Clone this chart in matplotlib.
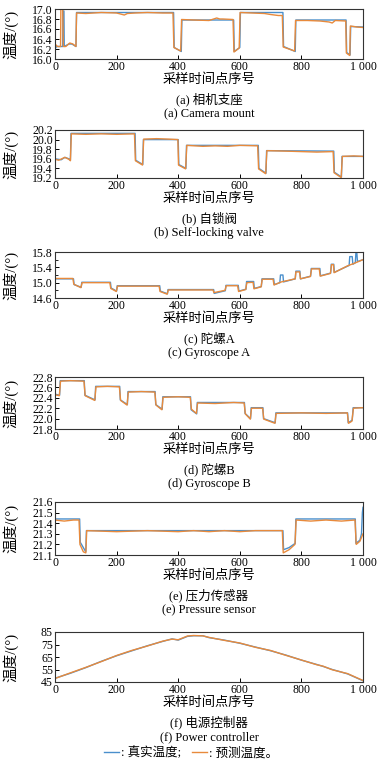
import matplotlib
matplotlib.use("Agg")
import matplotlib.pyplot as plt
from matplotlib.lines import Line2D
from matplotlib.ticker import FuncFormatter

plt.rcParams["font.family"] = ["Liberation Serif", "Noto Sans CJK SC"]
plt.rcParams["font.size"] = 9

BLUE = "#4a8fcc"
ORANGE = "#e88a3c"

# (a) camera mount
a_true_x = [0, 5, 25, 26, 29, 30, 45, 55, 68, 70, 385, 387, 410, 412, 580, 582, 600, 602,
            740, 742, 780, 782, 945, 947, 958, 960, 1000]
a_true_y = [16.2, 16.25, 16.25, 16.96, 16.96, 16.25, 16.3, 16.3, 16.25, 16.93, 16.93, 16.23,
            16.15, 16.78, 16.78, 16.15, 16.23, 16.93, 16.93, 16.25, 16.15, 16.78, 16.78, 16.13,
            16.08, 16.65, 16.64]
a_pred_x = [0, 8, 18, 19, 25, 27, 35, 48, 58, 68, 70, 100, 150, 200, 225, 235, 260, 300, 350,
            383, 386, 408, 411, 450, 500, 525, 535, 545, 578, 581, 598, 601, 640, 680, 700, 725,
            738, 741, 778, 781, 820, 860, 890, 900, 910, 944, 946, 957, 959, 980, 1000]
a_pred_y = [16.3, 16.25, 16.25, 17.0, 17.0, 16.25, 16.25, 16.32, 16.3, 16.25, 16.92, 16.91,
            16.93, 16.92, 16.88, 16.91, 16.92, 16.93, 16.92, 16.92, 16.23, 16.16, 16.79, 16.78,
            16.77, 16.82, 16.8, 16.8, 16.79, 16.14, 16.22, 16.93, 16.92, 16.91, 16.89, 16.87,
            16.87, 16.24, 16.16, 16.77, 16.77, 16.76, 16.74, 16.72, 16.77, 16.76, 16.12, 16.07,
            16.66, 16.64, 16.63]
a_ticks = [16.0, 16.2, 16.4, 16.6, 16.8, 17.0]

# (b) self-locking valve
b_true_x = [0, 20, 32, 45, 50, 52, 260, 262, 285, 287, 400, 402, 425, 427, 660, 662, 685, 687,
            905, 907, 930, 932, 1000]
b_true_y = [19.6, 19.58, 19.63, 19.6, 19.57, 20.13, 20.13, 19.57, 19.48, 20.0, 20.0, 19.48,
            19.4, 19.88, 19.88, 19.4, 19.3, 19.77, 19.76, 19.32, 19.22, 19.65, 19.65]
b_pred_x = [0, 12, 22, 32, 45, 50, 53, 100, 150, 200, 258, 261, 284, 288, 330, 370, 399, 401,
            424, 428, 480, 520, 560, 600, 658, 661, 684, 688, 750, 800, 850, 903, 906, 929, 933,
            970, 1000]
b_pred_y = [19.59, 19.57, 19.6, 19.63, 19.59, 19.56, 20.12, 20.11, 20.12, 20.11, 20.12, 19.56,
            19.47, 20.01, 20.02, 20.01, 20.0, 19.47, 19.39, 19.88, 19.86, 19.87, 19.86, 19.88,
            19.87, 19.39, 19.29, 19.77, 19.76, 19.75, 19.74, 19.75, 19.31, 19.21, 19.65, 19.66,
            19.65]
b_ticks = [19.2, 19.4, 19.6, 19.8, 20.0, 20.2]

# (c) gyroscope A
c_true_x = [0, 60, 62, 85, 87, 180, 182, 200, 202, 340, 342, 365, 367, 515, 517, 553, 555, 595,
            597, 620, 622, 645, 647, 670, 672, 710, 712, 730, 732, 740, 742, 780, 782, 795, 797,
            830, 832, 860, 862, 895, 897, 905, 907, 955, 957, 965, 967, 975, 977, 980, 982, 1000]
c_true_y = [15.1, 15.1, 14.95, 14.88, 15.01, 15.01, 14.86, 14.78, 14.92, 14.92, 14.78, 14.71,
            14.82, 14.82, 14.72, 14.79, 14.93, 14.93, 14.78, 14.83, 15.03, 15.03, 14.85, 14.9,
            15.1, 15.1, 14.95, 15.0, 15.2, 15.2, 15.02, 15.1, 15.3, 15.3, 15.1, 15.17, 15.37,
            15.37, 15.18, 15.25, 15.48, 15.48, 15.27, 15.45, 15.68, 15.68, 15.48, 15.52, 15.78,
            15.78, 15.55, 15.6]
c_pred_x = [0, 58, 61, 84, 88, 178, 181, 199, 203, 338, 341, 364, 368, 513, 516, 540, 552, 556,
            593, 596, 619, 623, 643, 646, 669, 673, 708, 711, 735, 780, 782, 794, 797, 829, 833,
            858, 861, 894, 898, 904, 906, 950, 970, 1000]
c_pred_y = [15.11, 15.11, 14.96, 14.87, 15.0, 15.0, 14.85, 14.77, 14.91, 14.91, 14.77, 14.7,
            14.81, 14.81, 14.74, 14.78, 14.8, 14.92, 14.92, 14.77, 14.82, 15.0, 15.01, 14.84,
            14.89, 15.09, 15.09, 14.94, 15.02, 15.1, 15.28, 15.28, 15.1, 15.16, 15.36, 15.36,
            15.17, 15.24, 15.47, 15.47, 15.26, 15.44, 15.5, 15.6]
c_ticks = [14.6, 15.0, 15.4, 15.8]
c_minor = [14.8, 15.2, 15.6]

# (d) gyroscope B
d_true_x = [0, 15, 17, 95, 97, 130, 132, 210, 212, 235, 237, 325, 327, 348, 350, 440, 442, 460,
            462, 615, 617, 635, 637, 675, 677, 715, 717, 950, 952, 965, 968, 1000]
d_true_y = [22.47, 22.45, 22.73, 22.73, 22.45, 22.36, 22.62, 22.62, 22.36, 22.27, 22.52, 22.52,
            22.27, 22.18, 22.42, 22.42, 22.17, 22.09, 22.31, 22.31, 22.1, 22.0, 22.21, 22.21,
            22.0, 21.92, 22.11, 22.11, 21.92, 21.97, 22.21, 22.21]
d_pred_x = [0, 14, 18, 50, 94, 98, 129, 133, 170, 209, 213, 234, 238, 280, 324, 328, 347, 351,
            400, 439, 443, 459, 463, 520, 580, 614, 618, 634, 638, 674, 678, 714, 718, 800, 880,
            949, 953, 964, 969, 1000]
d_pred_y = [22.46, 22.44, 22.72, 22.73, 22.72, 22.44, 22.35, 22.61, 22.62, 22.61, 22.35, 22.26,
            22.51, 22.52, 22.51, 22.26, 22.17, 22.41, 22.42, 22.41, 22.18, 22.1, 22.3, 22.29,
            22.31, 22.3, 22.09, 21.99, 22.2, 22.2, 21.99, 21.91, 22.1, 22.11, 22.1, 22.11, 21.91,
            21.95, 22.2, 22.21]
d_ticks = [21.8, 22.0, 22.2, 22.4, 22.6, 22.8]

# (e) pressure sensor
e_true_x = [0, 80, 82, 100, 102, 740, 742, 760, 780, 782, 975, 977, 990, 995, 998, 1000]
e_true_y = [21.44, 21.44, 21.22, 21.13, 21.33, 21.33, 21.15, 21.17, 21.21, 21.44, 21.44, 21.21,
            21.24, 21.3, 21.5, 21.55]
e_pred_x = [0, 30, 60, 78, 81, 92, 100, 103, 200, 300, 400, 450, 500, 550, 600, 650, 700, 738,
            741, 760, 779, 783, 830, 880, 930, 974, 978, 990, 1000]
e_pred_y = [21.43, 21.42, 21.43, 21.43, 21.2, 21.13, 21.12, 21.33, 21.32, 21.33, 21.32, 21.33,
            21.32, 21.33, 21.32, 21.33, 21.33, 21.33, 21.12, 21.15, 21.2, 21.43, 21.42, 21.43,
            21.42, 21.43, 21.2, 21.23, 21.3]
e_ticks = [21.1, 21.2, 21.3, 21.4, 21.5, 21.6]

# (f) power controller
f_x = [0, 50, 100, 150, 200, 250, 300, 350, 380, 400, 430, 450, 480, 500, 550, 600, 650, 700,
       750, 800, 850, 870, 900, 950, 1000]
f_true_y = [48, 52, 56.5, 61.5, 66, 70, 74, 77.5, 79.5, 78.5, 81.5, 82, 82, 80.5, 78.5, 76, 73,
            70, 66.5, 62.5, 59, 57.5, 55, 51.5, 46]
f_pred_y = [47.8, 52.3, 56.7, 61.3, 66.2, 70.3, 73.8, 77.7, 79.3, 78.8, 81.8, 82.2, 81.9, 80.7,
            78.3, 76.2, 72.8, 70.2, 66.3, 62.6, 58.8, 57.7, 54.8, 51.7, 46.2]
f_ticks = [45, 55, 65, 75, 85]

x_ticks = [0, 200, 400, 600, 800, 1000]
x_labels = ["0", "200", "400", "600", "800", "1 000"]

titles_cn = ["(a) 相机支座", "(b) 自锁阀", "(c) 陀螺A", "(d) 陀螺B", "(e) 压力传感器", "(f) 电源控制器"]
titles_en = ["(a) Camera mount", "(b) Self-locking valve", "(c) Gyroscope A",
             "(d) Gyroscope B", "(e) Pressure sensor", "(f) Power controller"]
yticks = [a_ticks, b_ticks, c_ticks, d_ticks, e_ticks, f_ticks]
yfmt = ["{:.1f}", "{:.1f}", "{:.1f}", "{:.1f}", "{:.1f}", "{:.0f}"]

series = [
    (a_true_x, a_true_y, a_pred_x, a_pred_y),
    (b_true_x, b_true_y, b_pred_x, b_pred_y),
    (c_true_x, c_true_y, c_pred_x, c_pred_y),
    (d_true_x, d_true_y, d_pred_x, d_pred_y),
    (e_true_x, e_true_y, e_pred_x, e_pred_y),
    (f_x, f_true_y, f_x, f_pred_y),
]

W, H = 382, 766
# axes top / bottom in pixels
tops = [9, 130, 252, 377, 502, 632]
bottoms = [59, 178, 298, 429, 555, 682]
left, right = 55, 363
xc = 0.5 * (left + right) / W

fig = plt.figure(figsize=(W / 100, H / 100), dpi=100)

for i, (tx, ty, px, py) in enumerate(series):
    t, b = tops[i], bottoms[i]
    ax = fig.add_axes([left / W, 1 - b / H, (right - left) / W, (b - t) / H])
    ax.plot(tx, ty, color=BLUE, lw=1.0)
    ax.plot(px, py, color=ORANGE, lw=1.0)
    ax.set_xlim(0, 1000)
    ax.set_ylim(yticks[i][0], yticks[i][-1])
    ax.set_xticks(x_ticks, x_labels)
    ax.set_yticks(yticks[i])
    f = yfmt[i]
    ax.yaxis.set_major_formatter(FuncFormatter(lambda v, p, f=f: f.format(v)))
    if i == 2:
        ax.set_yticks(c_minor, minor=True)
    ax.tick_params(direction="in", length=3, width=0.7, labelsize=8.5, pad=1.5,
                   top=False, right=False)
    ax.tick_params(which="minor", direction="in", length=2, width=0.6)
    for s in ax.spines.values():
        s.set_color("#333333")
        s.set_linewidth(0.8)
    ax.set_ylabel("温度/(°)", fontsize=10.5)
    ax.yaxis.set_label_coords(-0.12, 0.5)
    fig.text(xc, 1 - (b + 21) / H, "采样时间点序号", ha="center", va="center", fontsize=9.5)
    fig.text(xc, 1 - (b + 40) / H, titles_cn[i], ha="center", va="center", fontsize=9)
    fig.text(xc, 1 - (b + 55) / H, titles_en[i], ha="center", va="center", fontsize=9)

handles = [Line2D([], [], color=BLUE, lw=1.0), Line2D([], [], color=ORANGE, lw=1.0)]
fig.legend(handles, [": 真实温度;", ": 预测温度。"], loc="center", ncol=2,
           bbox_to_anchor=(0.5, 1 - 753 / H), frameon=False, fontsize=9,
           handlelength=1.2, handletextpad=0.2, columnspacing=0.8)

fig.savefig("out.png", dpi=100)
